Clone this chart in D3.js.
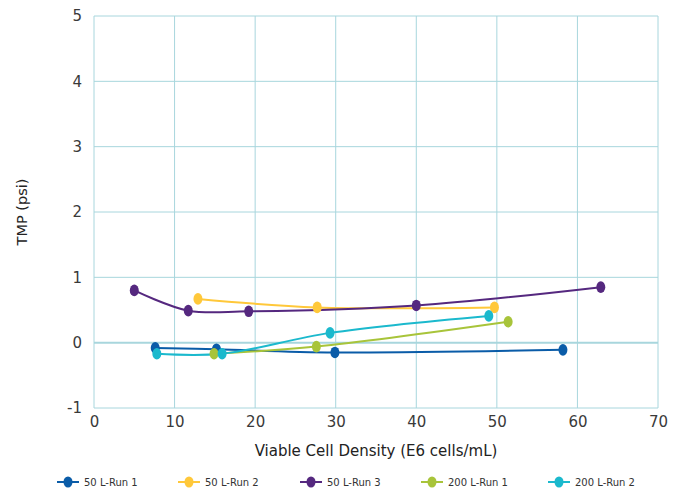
<!DOCTYPE html>
<html><head><meta charset="utf-8">
<script src="https://cdn.jsdelivr.net/npm/d3@7"></script>
<style>body{margin:0;background:#fff;} svg{display:block;}</style>
</head><body>
<svg id="c" width="684" height="493"></svg>
<script>
const seriesNames = ["50 L-Run 1", "50 L-Run 2", "50 L-Run 3", "200 L-Run 1", "200 L-Run 2"];
const seriesColors = ["#0A5CA8", "#FFC83A", "#55287F", "#A8C43A", "#1BB9CD"];
const run1X = [7.6, 15.2, 29.9, 58.2];
const run1Y = [-0.08, -0.10, -0.15, -0.11];
const run2X = [12.9, 27.7, 49.7];
const run2Y = [0.67, 0.54, 0.54];
const run3X = [5.0, 11.7, 19.2, 40.0, 62.9];
const run3Y = [0.80, 0.49, 0.48, 0.57, 0.85];
const run200aX = [14.9, 27.6, 51.4];
const run200aY = [-0.17, -0.06, 0.32];
const run200bX = [7.8, 15.9, 29.3, 49.0];
const run200bY = [-0.17, -0.17, 0.15, 0.41];
const xTicks = [0, 10, 20, 30, 40, 50, 60, 70];
const yTicks = [-1, 0, 1, 2, 3, 4, 5];

const seriesX = [run1X, run2X, run3X, run200aX, run200bX];
const seriesY = [run1Y, run2Y, run3Y, run200aY, run200bY];
const series = seriesNames.map((n, i) => ({
  name: n, color: seriesColors[i],
  pts: seriesX[i].map((x, j) => [x, seriesY[i][j]])
}));

const svg = d3.select("#c");
const font = "DejaVu Sans, Verdana, sans-serif";
const x = d3.scaleLinear().domain([0, 70]).range([94, 658]);
const y = d3.scaleLinear().domain([-1, 5]).range([408, 16]);
const grid = "#A8D6DD";

// grid
svg.append("g").selectAll("line").data(xTicks).join("line")
  .attr("x1", d => x(d)).attr("x2", d => x(d)).attr("y1", y(5)).attr("y2", y(-1))
  .attr("stroke", grid).attr("stroke-width", 1);
svg.append("g").selectAll("line").data(yTicks).join("line")
  .attr("x1", x(0)).attr("x2", x(70)).attr("y1", d => y(d)).attr("y2", d => y(d))
  .attr("stroke", grid).attr("stroke-width", d => d === 0 ? 2 : 1);

// axes labels
const fmt = d => String(d);
const xAxis = d3.axisBottom(x).tickValues(xTicks).tickSize(0).tickPadding(0).tickFormat(fmt);
const gx = svg.append("g").attr("transform", `translate(0,${y(-1)})`).call(xAxis);
gx.select(".domain").remove();
gx.selectAll("text").attr("font-family", font).attr("font-size", 15).attr("fill", "#3a3a3a")
  .attr("dy", "1.25em");
const yAxis = d3.axisLeft(y).tickValues(yTicks).tickSize(0).tickPadding(0).tickFormat(fmt);
const gy = svg.append("g").attr("transform", `translate(${x(0) - 12},0)`).call(yAxis);
gy.select(".domain").remove();
gy.selectAll("text").attr("font-family", font).attr("font-size", 15).attr("fill", "#3a3a3a");

svg.append("text").attr("x", 376).attr("y", 456).attr("text-anchor", "middle")
  .attr("font-family", font).attr("font-size", 15).attr("fill", "#222")
  .text("Viable Cell Density (E6 cells/mL)");
svg.append("text").attr("transform", "translate(27,212) rotate(-90)").attr("text-anchor", "middle")
  .attr("font-family", font).attr("font-size", 14.5).attr("fill", "#222")
  .text("TMP (psi)");

// lines
const line = d3.line().x(d => x(d[0])).y(d => y(d[1])).curve(d3.curveCatmullRom.alpha(0.5));
series.forEach(s => {
  svg.append("path").attr("d", line(s.pts)).attr("fill", "none")
    .attr("stroke", s.color).attr("stroke-width", 2);
});
series.forEach(s => {
  svg.append("g").selectAll("ellipse").data(s.pts).join("ellipse")
    .attr("cx", d => x(d[0])).attr("cy", d => y(d[1])).attr("rx", 4.5).attr("ry", 5.8)
    .attr("fill", s.color);
});

// legend
const legX = [68, 189, 311, 432, 559];
const legY = 482;
series.forEach((s, i) => {
  const g = svg.append("g");
  g.append("line").attr("x1", legX[i] - 11).attr("x2", legX[i] + 11).attr("y1", legY).attr("y2", legY)
    .attr("stroke", s.color).attr("stroke-width", 2);
  g.append("ellipse").attr("cx", legX[i]).attr("cy", legY).attr("rx", 4.5).attr("ry", 5.5).attr("fill", s.color);
  g.append("text").attr("x", legX[i] + 16).attr("y", legY + 3.5).attr("font-family", font)
    .attr("font-size", 10).attr("fill", "#333").text(s.name);
});
</script>
</body></html>
